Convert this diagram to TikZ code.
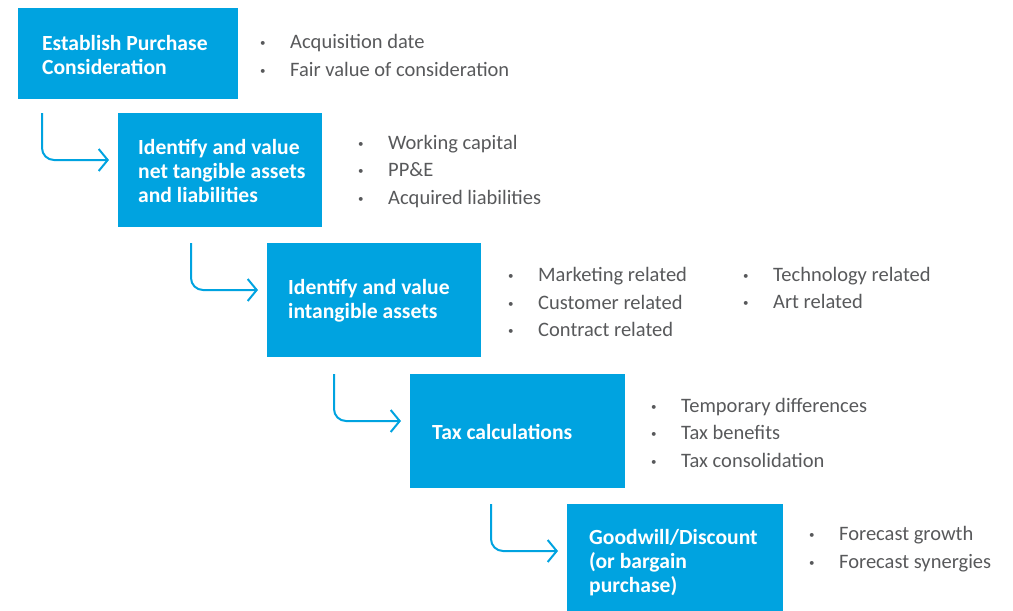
\documentclass[tikz,border=0pt]{standalone}
\usepackage{fontspec}
\setmainfont{Carlito}
\usetikzlibrary{positioning,calc,arrows.meta}
\definecolor{stepblue}{RGB}{0,163,224}
\definecolor{listgray}{RGB}{88,89,91}
\newcommand{\blt}{\makebox[30pt][l]{\raisebox{2pt}{\fontsize{11}{11}\selectfont•}}}
\begin{document}
\begin{tikzpicture}[
	x=1pt, y=-1pt,
	stepbox/.style={fill=stepblue, anchor=north west, inner sep=0pt},
	steptext/.style={anchor=west, align=left, inner sep=0pt, text=white, font=\fontsize{21.6}{24}\selectfont\bfseries},
	bullets/.style={anchor=west, align=left, inner sep=0pt, text=listgray, font=\fontsize{20.5}{27.5}\selectfont},
	flow/.style={stepblue, line width=2pt, rounded corners=12pt, shorten >=9pt, -{Straight Barb[length=9pt, width=22pt]}},
	]
	%frame
	\clip (0,0) rectangle (1013,611);
	
	%boxes
	\node[stepbox, minimum width=220, minimum height=91] (est) at (18,8) {};
	\node[stepbox, minimum width=204, minimum height=114] (ntg) at (118,113) {};
	\node[stepbox, minimum width=214, minimum height=114] (int) at (267,243) {};
	\node[stepbox, minimum width=215, minimum height=114] (tax) at (410,374) {};
	\node[stepbox, minimum width=216, minimum height=114] (gw) at (567,504) {};
	
	%box texts
	\node[steptext, right=24pt of est.west, yshift=-1pt] (estt) {Establish Purchase\\Consideration};
	\node[steptext, right=20pt of ntg.west, yshift=-1pt] (ntgt) {Identify and value\\net tangible assets\\and liabilities};
	\node[steptext, right=21pt of int.west, yshift=-1pt] (intt) {Identify and value\\intangible assets};
	\node[steptext, right=22pt of tax.west, yshift=-1pt] (taxt) {Tax calculations};
	\node[steptext, right=22pt of gw.west, yshift=-1pt] (gwt) {Goodwill/Discount\\(or bargain\\purchase)};
	
	%lists
	\node[bullets] (estl) at (260,55.5) {\blt Acquisition date\\\blt Fair value of consideration};
	\node[bullets] (ntgl) at (358,171.5) {\blt Working capital\\\blt PP\&E\\\blt Acquired liabilities};
	\node[bullets] (intl) at (508,302) {\blt Marketing related\\\blt Customer related\\\blt Contract related};
	\node[bullets] (intr) at (743,288) {\blt Technology related\\\blt Art related};
	\node[bullets] (taxl) at (651,432.5) {\blt Temporary differences\\\blt Tax benefits\\\blt Tax consolidation};
	\node[bullets] (gwl) at (809,549) {\blt Forecast growth\\\blt Forecast synergies};
	
	%arrows
	\foreach \b in {ntg,int,tax,gw}
		\draw[flow] ($(\b.north west)+(-76,0)$) |- ($(\b.north west)+(0,47)$);
\end{tikzpicture}
\end{document}
